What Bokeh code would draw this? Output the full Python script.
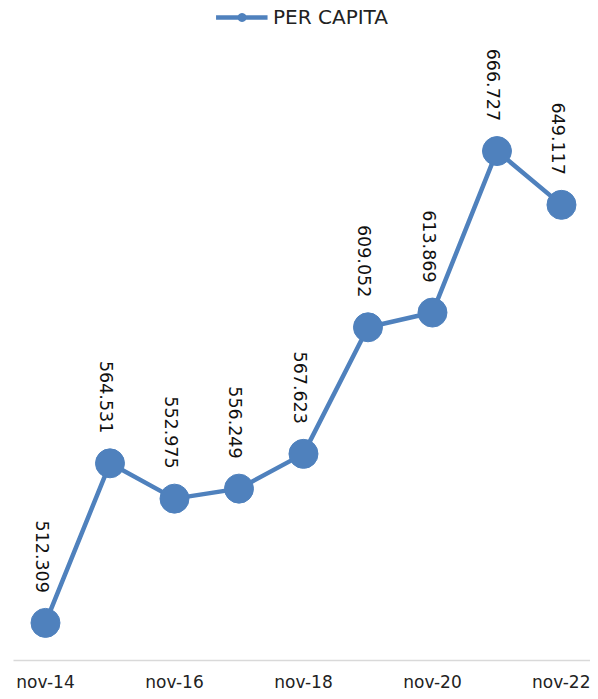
import numpy as np
from bokeh.plotting import figure
from bokeh.models import Range1d, FixedTicker, Legend, LegendItem, ColumnDataSource
from bokeh.core.properties import value
from bokeh.embed import file_html
from bokeh.resources import INLINE

categories = ["nov-14", "nov-15", "nov-16", "nov-17", "nov-18", "nov-19", "nov-20", "nov-21", "nov-22"]
per_capita = [512.309, 564.531, 552.975, 556.249, 567.623, 609.052, 613.869, 666.727, 649.117]
value_labels = ["512.309", "564.531", "552.975", "556.249", "567.623", "609.052", "613.869", "666.727", "649.117"]
series_name = "PER CAPITA"

COLOR = "#4F81BD"
FONT = "DejaVu Sans"

xs = list(range(len(categories)))
src = ColumnDataSource(dict(x=xs, y=per_capita, lab=value_labels))

p = figure(width=590, height=696, output_backend="svg", toolbar_location=None,
           x_range=Range1d(-0.496, 8.45), y_range=Range1d(500, 716.0),
           min_border_left=13, min_border_right=0, min_border_top=0, min_border_bottom=36)
p.outline_line_color = None
p.background_fill_color = None
p.border_fill_color = None
p.grid.visible = False
p.yaxis.visible = False

ax = p.xaxis[0]
ax.ticker = FixedTicker(ticks=[0, 2, 4, 6, 8])
ax.major_label_overrides = {i: categories[i] for i in xs}
ax.axis_line_color = "#D9D9D9"
ax.axis_line_width = 1.5
ax.major_tick_line_color = None
ax.minor_tick_line_color = None
ax.major_label_text_font = FONT
ax.major_label_text_font_size = "17px"
ax.major_label_text_color = "#222222"
ax.major_label_standoff = 5

p.line("x", "y", source=src, line_color=COLOR, line_width=4.5)
p.scatter("x", "y", source=src, size=29, fill_color=COLOR, line_color=COLOR)

p.text("x", "y", text="lab", source=src, angle=-np.pi / 2, text_align="right",
       text_baseline="middle", y_offset=-30, x_offset=-3, text_font=value(FONT),
       text_font_size="17.5px", text_color="#111111")

lg_line = p.line(x=[np.nan], y=[np.nan], line_color=COLOR, line_width=4.5)
lg_dot = p.scatter(x=[np.nan], y=[np.nan], size=13, fill_color=COLOR, line_color=COLOR)
legend = Legend(items=[LegendItem(label=series_name, renderers=[lg_line, lg_dot])],
                location="top_center", orientation="horizontal",
                border_line_color=None, background_fill_alpha=0,
                glyph_width=52, glyph_height=20, label_text_font=FONT,
                label_text_font_size="20px", label_text_color="#222222",
                margin=5, padding=0, label_standoff=6, spacing=0)
p.add_layout(legend)

open("out.html", "w").write(file_html(p, INLINE))
